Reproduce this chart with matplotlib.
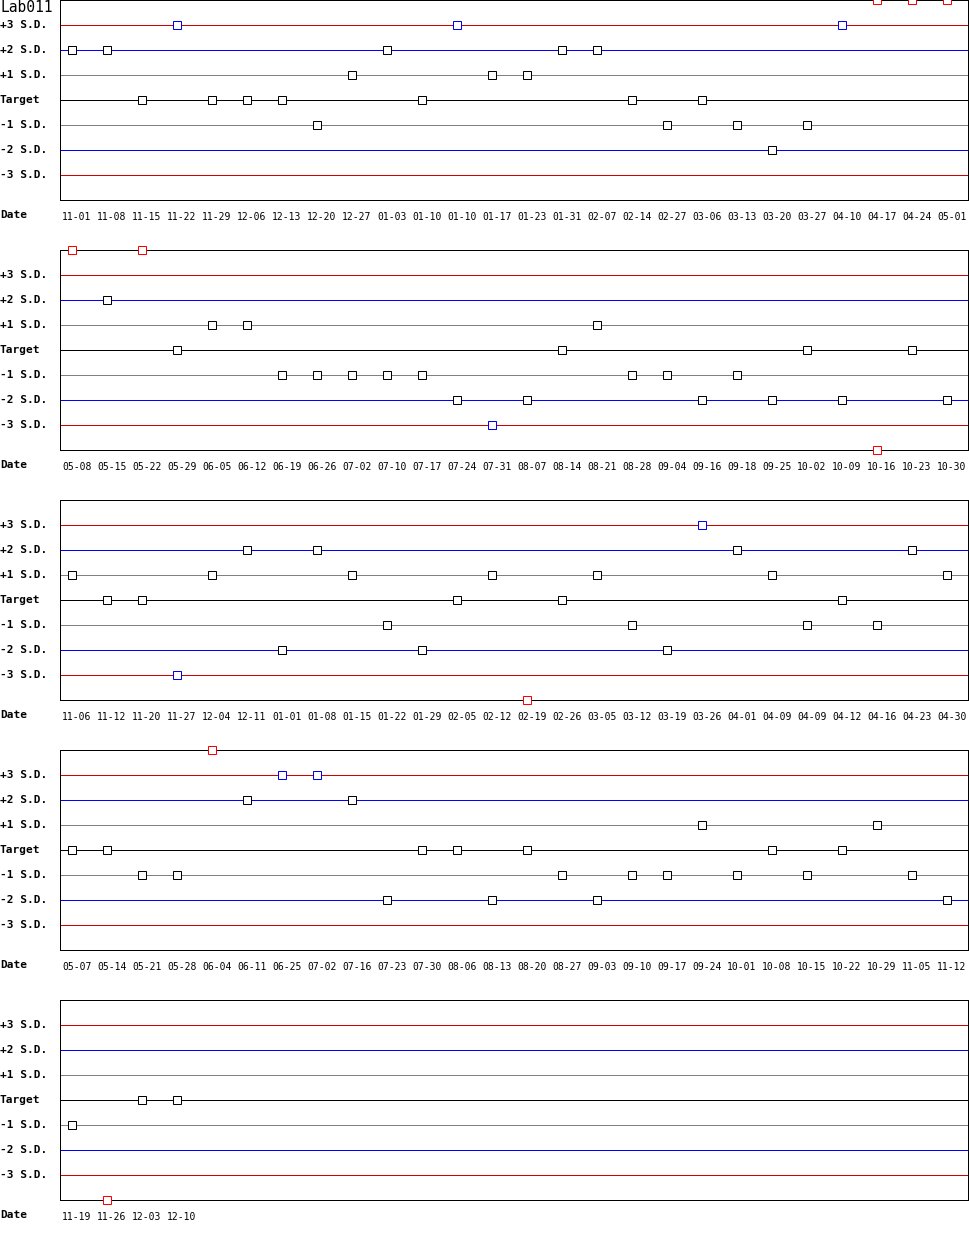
import matplotlib
matplotlib.use('Agg')
import matplotlib.pyplot as plt
from matplotlib.transforms import blended_transform_factory, ScaledTranslation

TITLE = 'Lab011'
LEVELS = [3, 2, 1, 0, -1, -2, -3]
LEVEL_NAMES = ['+3 S.D.', '+2 S.D.', '+1 S.D.', 'Target', '-1 S.D.', '-2 S.D.', '-3 S.D.']
LEVEL_COLORS = ['#d40000', '#0000ff', '#808080', '#000000', '#808080', '#0000ff', '#d40000']

# one row of the chart per list pair; values are in S.D. units (+/-4 = off scale)
dates_1 = ['11-01', '11-08', '11-15', '11-22', '11-29', '12-06', '12-13', '12-20', '12-27',
           '01-03', '01-10', '01-10', '01-17', '01-23', '01-31', '02-07', '02-14', '02-27',
           '03-06', '03-13', '03-20', '03-27', '04-10', '04-17', '04-24', '05-01']
sd_1 = [2, 2, 0, 3, 0, 0, 0, -1, 1, 2, 0, 3, 1, 1, 2, 2, 0, -1, 0, -1, -2, -1, 3, 4, 4, 4]

dates_2 = ['05-08', '05-15', '05-22', '05-29', '06-05', '06-12', '06-19', '06-26', '07-02',
           '07-10', '07-17', '07-24', '07-31', '08-07', '08-14', '08-21', '08-28', '09-04',
           '09-16', '09-18', '09-25', '10-02', '10-09', '10-16', '10-23', '10-30']
sd_2 = [4, 2, 4, 0, 1, 1, -1, -1, -1, -1, -1, -2, -3, -2, 0, 1, -1, -1, -2, -1, -2, 0, -2, -4, 0, -2]

dates_3 = ['11-06', '11-12', '11-20', '11-27', '12-04', '12-11', '01-01', '01-08', '01-15',
           '01-22', '01-29', '02-05', '02-12', '02-19', '02-26', '03-05', '03-12', '03-19',
           '03-26', '04-01', '04-09', '04-09', '04-12', '04-16', '04-23', '04-30']
sd_3 = [1, 0, 0, -3, 1, 2, -2, 2, 1, -1, -2, 0, 1, -4, 0, 1, -1, -2, 3, 2, 1, -1, 0, -1, 2, 1]

dates_4 = ['05-07', '05-14', '05-21', '05-28', '06-04', '06-11', '06-25', '07-02', '07-16',
           '07-23', '07-30', '08-06', '08-13', '08-20', '08-27', '09-03', '09-10', '09-17',
           '09-24', '10-01', '10-08', '10-15', '10-22', '10-29', '11-05', '11-12']
sd_4 = [0, 0, -1, -1, 4, 2, 3, 3, 2, -2, 0, 0, -2, 0, -1, -2, -1, -1, 1, -1, 0, -1, 0, 1, -1, -2]

dates_5 = ['11-19', '11-26', '12-03', '12-10']
sd_5 = [-1, -4, 0, 0]

rows = [(dates_1, sd_1), (dates_2, sd_2), (dates_3, sd_3), (dates_4, sd_4), (dates_5, sd_5)]

W, H = 970, 1250
MONO = 'DejaVu Sans Mono'
PX = 0.72  # one pixel in points at dpi 100


def point_color(v):
    if abs(v) >= 4:
        return '#ff0000'
    if abs(v) == 3:
        return '#0000ff'
    return '#000000'


fig = plt.figure(figsize=(W / 100, H / 100), dpi=100)
fig.patch.set_facecolor('white')

step = 35.0       # px between points
first = 12.0      # px from left frame to first point
ax_left, ax_w, ax_h = 60, 908, 200

for k, (dates, vals) in enumerate(rows):
    top = 250 * k
    ax = fig.add_axes([ax_left / W, 1 - (top + ax_h) / H, ax_w / W, ax_h / H])
    ax.set_xlim(-first / step, (ax_w - first) / step)
    ax.set_ylim(-4, 4)
    ax.set_xticks([])
    ax.set_yticks([])
    for sp in ax.spines.values():
        sp.set_linewidth(PX)
        sp.set_color('black')
        sp.set_antialiased(False)

    for lev, col in zip(LEVELS, LEVEL_COLORS):
        ax.axhline(lev, color=col, lw=PX, antialiased=False, zorder=1)

    for i, v in enumerate(vals):
        ax.plot(i, v, marker='s', ms=5.4, mfc='white', mec=point_color(v),
                mew=PX, clip_on=False, zorder=5, antialiased=False)

    # left-hand level labels
    tr = blended_transform_factory(fig.transFigure, ax.transData)
    for lev, name in zip(LEVELS, LEVEL_NAMES):
        ax.text(0.0, lev, name, transform=tr, ha='left', va='center',
                fontsize=8, fontweight='bold', family=MONO)

    # date row
    tr_date = blended_transform_factory(fig.transFigure, ax.transAxes)
    ax.text(0.0, -15 / ax_h, 'Date', transform=tr_date, ha='left', va='center',
            fontsize=8, fontweight='bold', family=MONO)
    tr_x = blended_transform_factory(ax.transData, ax.transAxes) + \
        ScaledTranslation(5 / 100, 0, fig.dpi_scale_trans)
    for i, d in enumerate(dates):
        ax.text(i, -17 / ax_h, d, transform=tr_x, ha='center', va='center',
                fontsize=7, family=MONO)

fig.text(0.0, 1 - 8 / H, TITLE, ha='left', va='center', fontsize=10.5, family=MONO)

fig.savefig('out.png', dpi=100, facecolor='white')
